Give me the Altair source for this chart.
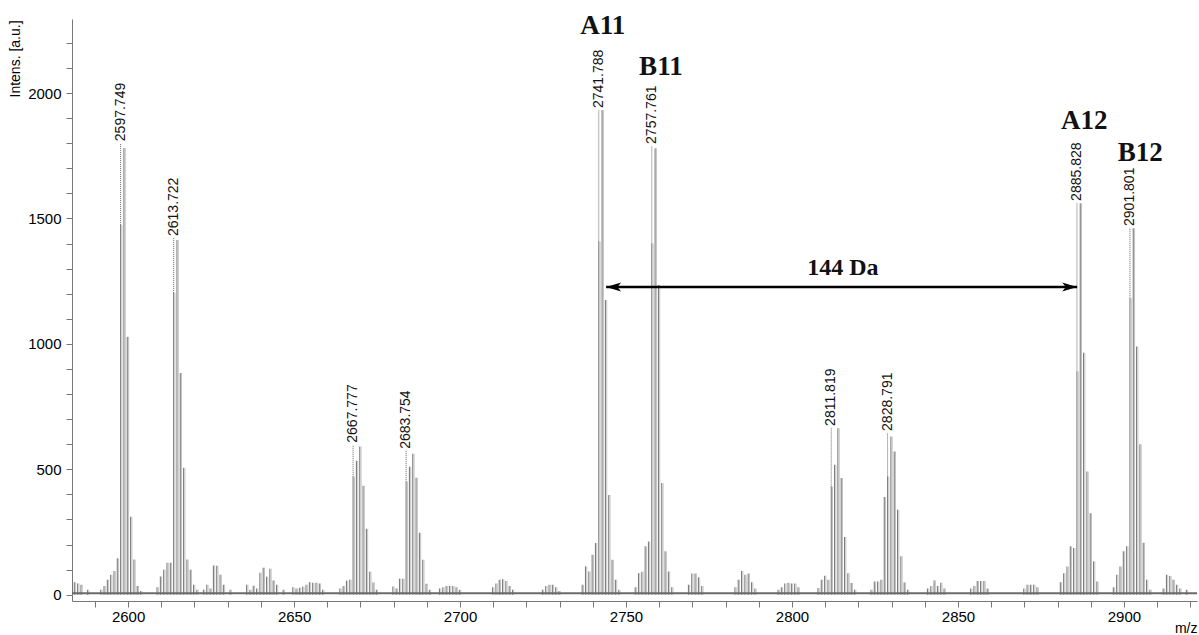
import altair as alt
import pandas as pd

# ---------------- data ----------------
X_MIN, X_MAX = 2583.1, 2922.0
Y_MIN, Y_MAX = -25, 2295

# isotope peaks (m/z, intensity), grouped by cluster
PEAK_MZ = [
    2583.8, 2584.8, 2585.8, 2587.8,
    2591.75, 2592.75, 2593.75, 2594.75, 2595.75, 2596.75, 2597.75, 2598.75, 2599.75, 2600.75, 2601.75, 2602.75, 2603.75,
    2608.72, 2609.72, 2610.72, 2611.72, 2612.72, 2613.72, 2614.72, 2615.72, 2616.72, 2617.72, 2618.72, 2619.72, 2620.72,
    2622.7, 2623.7, 2624.7, 2625.7, 2626.7, 2627.7, 2628.7, 2630.7,
    2635.7, 2636.7, 2637.7, 2638.7, 2639.7, 2640.7, 2641.7, 2642.7, 2643.7, 2644.7, 2646.7,
    2649.6, 2650.6, 2651.6, 2652.6, 2653.6, 2654.6, 2655.6, 2656.6, 2657.6, 2658.6,
    2663.78, 2664.78, 2665.78, 2666.78, 2667.78, 2668.78, 2669.78, 2670.78, 2671.78, 2672.78, 2673.78, 2674.78,
    2679.75, 2680.75, 2681.75, 2682.75, 2683.75, 2684.75, 2685.75, 2686.75, 2687.75, 2688.75, 2689.75, 2690.75,
    2693.8, 2694.8, 2695.8, 2696.8, 2697.8, 2698.8, 2699.8,
    2709.8, 2710.8, 2711.8, 2712.8, 2713.8, 2714.8, 2715.8,
    2724.8, 2725.8, 2726.8, 2727.8, 2728.8, 2729.8,
    2736.79, 2737.79, 2738.79, 2739.79, 2740.79, 2741.79, 2742.79, 2743.79, 2744.79, 2745.79, 2746.79, 2747.79,
    2752.76, 2753.76, 2754.76, 2755.76, 2756.76, 2757.76, 2758.76, 2759.76, 2760.76, 2761.76, 2762.76, 2763.76,
    2768.8, 2769.8, 2770.8, 2771.8, 2772.8,
    2782.8, 2783.8, 2784.8, 2785.8, 2786.8, 2787.8, 2788.8,
    2795.8, 2796.8, 2797.8, 2798.8, 2799.8, 2800.8, 2801.8,
    2807.82, 2808.82, 2809.82, 2810.82, 2811.82, 2812.82, 2813.82, 2814.82, 2815.82, 2816.82, 2817.82, 2818.82,
    2823.79, 2824.79, 2825.79, 2826.79, 2827.79, 2828.79, 2829.79, 2830.79, 2831.79, 2832.79, 2833.79, 2834.79,
    2840.8, 2841.8, 2842.8, 2843.8, 2844.8, 2845.8,
    2853.8, 2854.8, 2855.8, 2856.8, 2857.8, 2858.8,
    2869.8, 2870.8, 2871.8, 2872.8, 2873.8,
    2880.83, 2881.83, 2882.83, 2883.83, 2884.83, 2885.83, 2886.83, 2887.83, 2888.83, 2889.83, 2890.83, 2891.83,
    2896.8, 2897.8, 2898.8, 2899.8, 2900.8, 2901.8, 2902.8, 2903.8, 2904.8, 2905.8, 2906.8, 2907.8,
    2911.8, 2912.8, 2913.8, 2914.8, 2915.8, 2916.8, 2918.8,
]
PEAK_INT = [
    50, 45, 40, 20,
    20, 35, 60, 80, 95, 145, 1474, 1781, 1028, 311, 140, 35, 15,
    30, 73, 100, 127, 127, 1203, 1414, 884, 506, 140, 100, 40, 20,
    20, 40, 25, 117, 116, 80, 40, 20,
    40, 20, 36, 25, 88, 108, 72, 104, 57, 40, 20,
    30, 25, 28, 32, 40, 50, 48, 48, 45, 20,
    25, 35, 56, 60, 470, 534, 591, 434, 263, 92, 49, 20,
    33, 25, 64, 64, 450, 510, 562, 466, 247, 139, 44, 20,
    25, 30, 35, 35, 35, 30, 20,
    30, 45, 60, 62, 55, 35, 20,
    20, 35, 40, 40, 30, 15,
    40, 113, 93, 159, 206, 1408, 1932, 1175, 398, 139, 60, 20,
    30, 86, 92, 193, 212, 1400, 1780, 1235, 445, 173, 93, 30,
    40, 85, 85, 70, 35,
    30, 60, 95, 80, 85, 50, 25,
    20, 30, 45, 48, 45, 45, 30,
    27, 60, 76, 60, 431, 518, 664, 465, 230, 86, 47, 20,
    20, 53, 53, 60, 390, 471, 631, 571, 339, 153, 49, 20,
    25, 35, 57, 35, 48, 25,
    25, 35, 55, 55, 55, 25,
    25, 40, 40, 40, 30,
    50, 86, 113, 193, 186, 890, 1561, 965, 491, 325, 133, 53,
    30, 80, 113, 173, 193, 1182, 1461, 990, 600, 207, 60, 20,
    25, 80, 75, 60, 40, 25, 20,
]

# peak labels: m/z text, apex of labelled peak, level of label foot
LABEL_TEXT = ["2597.749", "2613.722", "2667.777", "2683.754", "2741.788",
              "2757.761", "2811.819", "2828.791", "2885.828", "2901.801"]
LABEL_MZ = [2597.749, 2613.722, 2667.777, 2683.754, 2741.788,
            2757.761, 2811.819, 2828.791, 2885.828, 2901.801]
LABEL_APEX = [1474, 1203, 470, 450, 1408, 1400, 431, 471, 890, 1182]
LABEL_FOOT = [1800, 1422, 598, 574, 1932, 1789, 665, 645, 1562, 1462]

# big series names
NAME_TEXT = ["A11", "B11", "A12", "B12"]
NAME_MZ = [2743.0, 2760.5, 2888.0, 2904.9]
NAME_Y = [2269, 2102, 1888, 1761]

# 144 Da arrow
ARROW_FROM, ARROW_TO, ARROW_Y = 2744.0, 2885.9, 1227
DELTA_TEXT, DELTA_MZ, DELTA_Y = "144 Da", 2815.3, 1303

X_TICKS = list(range(2590, 2921, 10))
Y_TICKS = list(range(0, 2201, 100))

# ---------------- chart ----------------
FONT = "Liberation Sans"
SERIF = "Liberation Serif"
W, H = 1125, 582

xs = alt.Scale(domain=[X_MIN, X_MAX], nice=False, zero=False)
ys = alt.Scale(domain=[Y_MIN, Y_MAX], nice=False, zero=False)

x_axis = alt.Axis(
    values=X_TICKS, format="d",
    labelExpr="datum.value % 50 === 0 ? datum.label : ''",
    labelOverlap=False, labelFlush=False,
    title="m/z", titleX=W, titleY=27, titleAlign="right", titleBaseline="middle",
    titleFont=FONT, titleFontSize=14, titleFontWeight="normal", titleColor="#000",
    labelFont=FONT, labelFontSize=15, labelColor="#000", labelPadding=2,
    tickSize=6, tickColor="#777", domainColor="#777", grid=False,
)
y_axis = alt.Axis(
    values=Y_TICKS, format="d",
    labelExpr="datum.value % 500 === 0 ? datum.label : ''",
    labelOverlap=False,
    title="Intens. [a.u.]", titleX=-57, titleY=78, titleAngle=270,
    titleAlign="left", titleBaseline="middle",
    titleFont=FONT, titleFontSize=14, titleFontWeight="normal", titleColor="#000",
    labelFont=FONT, labelFontSize=15, labelColor="#000", labelPadding=5,
    tickSize=6, tickColor="#777", domainColor="#777", grid=False,
)


def X(field):
    return alt.X(field, type="quantitative", scale=xs, axis=x_axis)


def Y(field):
    return alt.Y(field, type="quantitative", scale=ys, axis=y_axis)


peaks = pd.DataFrame({"mz": PEAK_MZ, "intensity": PEAK_INT})
labels = pd.DataFrame({"text": LABEL_TEXT, "mz": LABEL_MZ, "apex": LABEL_APEX, "foot": LABEL_FOOT})
names = pd.DataFrame({"text": NAME_TEXT, "mz": NAME_MZ, "y": NAME_Y})
arrow = pd.DataFrame({"x1": [ARROW_FROM], "x2": [ARROW_TO], "y": [ARROW_Y]})
delta = pd.DataFrame({"text": [DELTA_TEXT], "mz": [DELTA_MZ], "y": [DELTA_Y]})

sticks = alt.Chart(peaks).mark_rule(color="#7c7c7c", strokeWidth=1.1, clip=True).encode(
    x=X("mz"), y=Y("intensity"), y2=alt.datum(0),
)
sticks_light = alt.Chart(peaks).mark_rule(color="#c2c2c2", strokeWidth=1, xOffset=1.3, clip=True).encode(
    x=X("mz"), y=Y("intensity"), y2=alt.datum(0),
)

baseline = alt.Chart(peaks.head(1)).mark_rule(color="#6a6a6a", strokeWidth=2).encode(
    x=alt.value(0), x2=alt.value(W), y=alt.datum(6, scale=ys, axis=y_axis)
)

leaders = alt.Chart(labels).mark_rule(color="#666", strokeWidth=1, strokeDash=[1, 1]).encode(
    x=X("mz"), y=Y("apex"), y2="foot:Q"
)

label_text = alt.Chart(labels).mark_text(
    angle=270, align="left", baseline="middle", dx=2, font=FONT, fontSize=14, color="#111"
).encode(x=X("mz"), y=Y("foot"), text="text:N")

name_text = alt.Chart(names).mark_text(
    font=SERIF, fontSize=27, fontWeight="bold", color="#111", align="center", baseline="middle"
).encode(x=X("mz"), y=Y("y"), text="text:N")

arrow_line = alt.Chart(arrow).mark_rule(color="#000", strokeWidth=2.5).encode(
    x=X("x1"), x2="x2:Q", y=Y("y")
)
head_left = alt.Chart(arrow).mark_point(
    shape="M0,0L2,-0.6L1.5,0L2,0.6Z", size=225, filled=True, color="#000", opacity=1
).encode(x=X("x1"), y=Y("y"))
head_right = alt.Chart(arrow).mark_point(
    shape="M0,0L-2,-0.6L-1.5,0L-2,0.6Z", size=225, filled=True, color="#000", opacity=1
).encode(x=X("x2"), y=Y("y"))

delta_text = alt.Chart(delta).mark_text(
    font=SERIF, fontSize=24, fontWeight="bold", color="#111", align="center", baseline="middle"
).encode(x=X("mz"), y=Y("y"), text="text:N")

chart = alt.layer(
    sticks, sticks_light, baseline, leaders, label_text, name_text,
    arrow_line, head_left, head_right, delta_text
).properties(
    width=W, height=H,
    padding={"left": 72, "top": 19, "right": 2, "bottom": 34},
    autosize=alt.AutoSizeParams(type="none"),
    background="white",
).configure_view(stroke=None).configure_axis(labelOverlap=False)

chart.save("out.html", embed_options={"renderer": "svg", "actions": False})
